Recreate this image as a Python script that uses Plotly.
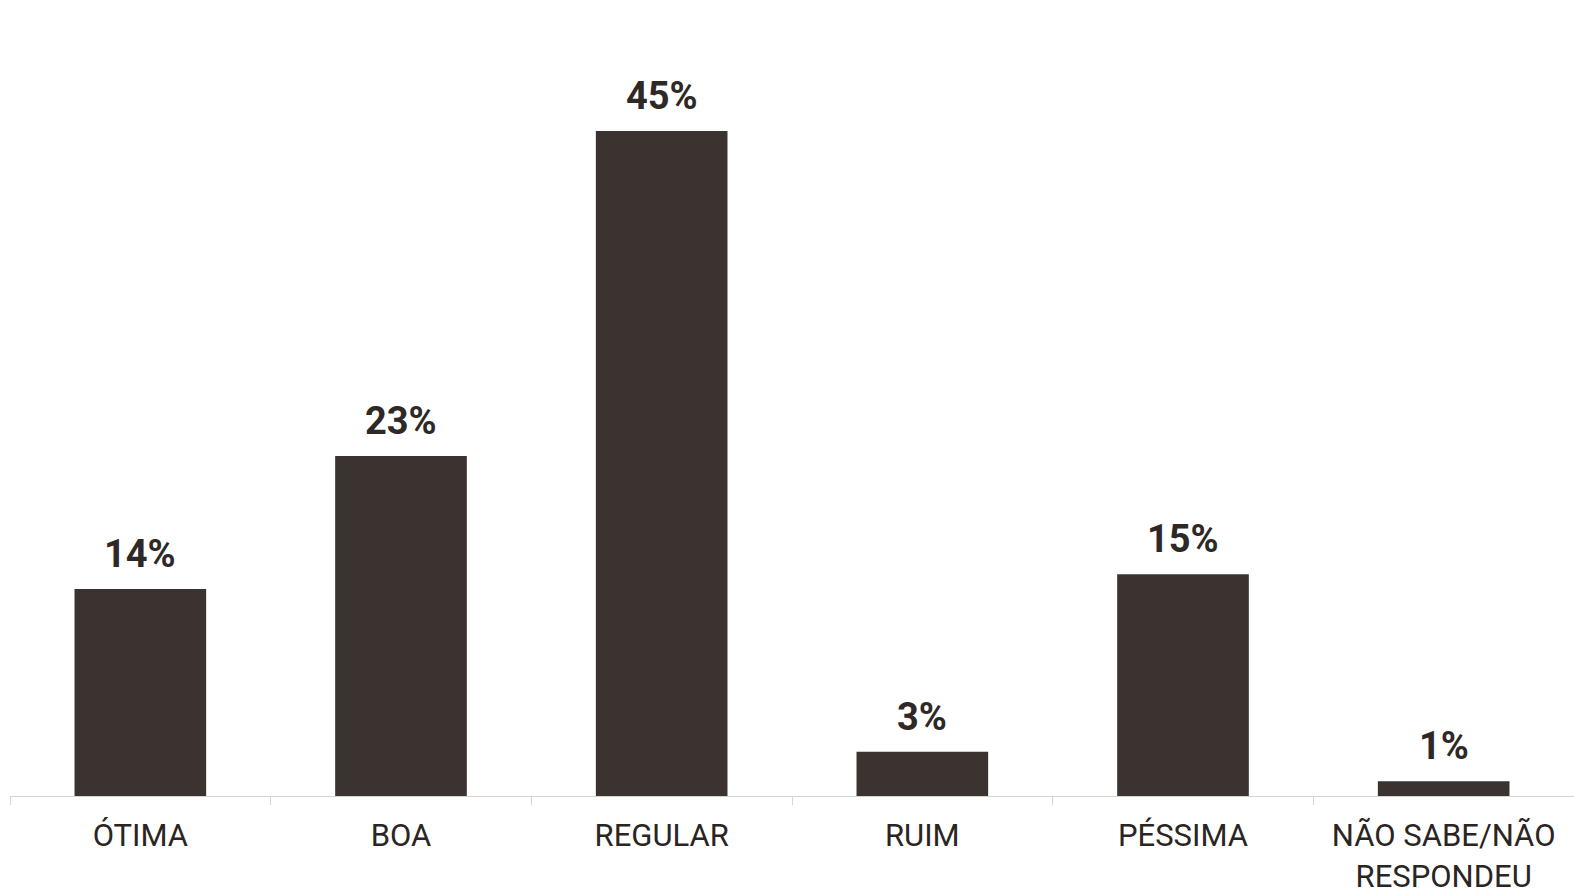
import plotly.graph_objects as go

categories = ["ÓTIMA", "BOA", "REGULAR", "RUIM", "PÉSSIMA", "NÃO SABE/NÃO<br>RESPONDEU"]
values = [14, 23, 45, 3, 15, 1]
value_labels = ["14%", "23%", "45%", "3%", "15%", "1%"]

FONT = "Roboto, Arial, sans-serif"
BAR = "#3a332f"

fig = go.Figure(
    go.Bar(
        x=categories,
        y=values,
        marker=dict(color=BAR, line=dict(width=0)),
        width=0.505,
        hoverinfo="skip",
    )
)

for c, v, t in zip(categories, values, value_labels):
    fig.add_annotation(
        x=c, y=v, text=t, showarrow=False,
        yanchor="middle", yshift=35,
        font=dict(family=FONT, size=38, color="#2e2826", weight="bold"),
    )

fig.update_layout(
    width=1574,
    height=896,
    margin=dict(l=10, r=0, t=63, b=100),
    paper_bgcolor="white",
    plot_bgcolor="white",
    showlegend=False,
)
fig.update_xaxes(
    automargin=False,
    showline=True,
    linecolor="#d6d6d6",
    linewidth=1,
    ticks="outside",
    tickson="boundaries",
    ticklen=8,
    tickcolor="#d6d6d6",
    tickfont=dict(family=FONT, size=31, color="#2a2523"),
    ticklabelstandoff=12,
    showgrid=False,
)
fig.update_yaxes(visible=False, range=[0, 49.6])

fig.write_html(
    "out.html",
    config={"displayModeBar": False},
    post_script="document.body.style.margin='0';",
)
